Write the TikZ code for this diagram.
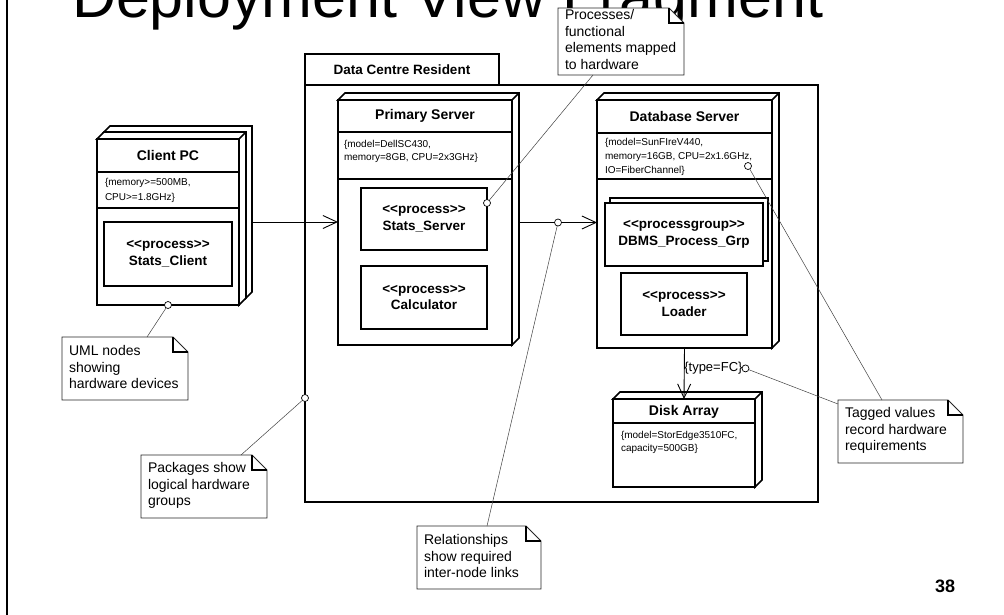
\documentclass[tikz,border=0pt]{standalone}
\usepackage{fontspec}
\setmainfont{Liberation Sans}[Ligatures=TeXOff]
\usetikzlibrary{arrows.meta,calc}
\begin{document}
\begin{tikzpicture}[x=1pt,y=-1pt,
  every node/.style={inner sep=0pt, outer sep=0pt},
  hwbox/.style={draw, fill=white, line width=1.6pt, anchor=north west},
  hwline/.style={line width=1.6pt, line join=miter},
  procbox/.style={draw, fill=white, line width=1.3pt, anchor=north west, align=center, font=\fontsize{13.5}{16.5}\selectfont\bfseries},
  hwname/.style={font=\fontsize{14}{16}\selectfont\bfseries},
  tagtext/.style={anchor=north west, align=left, font=\fontsize{10}{13.5}\selectfont},
  notebox/.style={anchor=north west},
  noteline/.style={line width=0.8pt, draw=black!85, line join=miter},
  notetext/.style={anchor=north west, align=left, font=\fontsize{14}{16.7}\selectfont},
  circ/.style={circle, draw, fill=white, minimum size=7pt, line width=0.7pt},
  link/.style={line width=0.5pt, draw=black!75},
  rel/.style={line width=0.9pt, -{Straight Barb[length=14pt,width=13pt,line width=0.9pt]}},
]
\useasboundingbox (0,0) rectangle (1004,614);
\clip (0,0) rectangle (1004,614);

% title and page frame
\node[anchor=base west, font=\fontsize{61}{61}\selectfont] (title) at (72,17) {Deployment View Fragment};
\draw[line width=1.5pt] (7,-2) -- (7,616);
\node[font=\fontsize{18}{18}\selectfont\bfseries] (page) at (945,586) {38};

% package
\node[draw, line width=1.5pt, minimum width=194pt, minimum height=31pt, anchor=north west,
      font=\fontsize{13.5}{16}\selectfont\bfseries] (pkgtab) at (305,54) {Data Centre Resident};
\node[draw, line width=1.5pt, minimum width=513pt, minimum height=417pt, anchor=north west] (pkg) at (305,85) {};

% Client PC (with stacked copy behind)
\draw[hwline, fill=white] (103,133) -- (110,126) -- (252,126) -- (252,292) -- (245,299) -- (103,299) -- cycle;
\node[hwbox, minimum width=142pt, minimum height=166pt] (client) at (97,139) {};
\draw[hwline, fill=white] (client.north west) -- ++(7,-7) -- ($(client.north east)+(7,-7)$) -- ($(client.south east)+(7,-7)$) -- (client.south east) -- (client.north east) -- cycle;
\draw[hwline] (client.north east) -- ++(7,-7);
\draw[hwline] ($(client.north west)+(0,33)$) -- ($(client.north east)+(0,33)$);
\draw[hwline] ($(client.north west)+(0,69)$) -- ($(client.north east)+(0,69)$);
\node[hwname] (clientname) at ($(client.north)+(0,16)$) {Client PC};
\node[tagtext, font=\fontsize{10}{15}\selectfont] (clienttag) at ($(client.north west)+(8,39.3)$) {\{memory>=500MB,\\CPU>=1.8GHz\}};
\node[procbox, minimum width=128pt, minimum height=64pt] (sc) at (104,222) {<<process>>\\Stats\_Client};

% Primary Server
\node[hwbox, minimum width=174pt, minimum height=245pt] (ps) at (338,100) {};
\draw[hwline, fill=white] (ps.north west) -- ++(7,-7) -- ($(ps.north east)+(7,-7)$) -- ($(ps.south east)+(7,-7)$) -- (ps.south east) -- (ps.north east) -- cycle;
\draw[hwline] (ps.north east) -- ++(7,-7);
\draw[hwline] ($(ps.north west)+(0,32)$) -- ($(ps.north east)+(0,32)$);
\draw[hwline] ($(ps.north west)+(0,79)$) -- ($(ps.north east)+(0,79)$);
\node[hwname] (psname) at ($(ps.north)+(0,16)$) {Primary Server};
\node[tagtext, font=\fontsize{10}{13.3}\selectfont] (pstag) at ($(ps.north west)+(6,40.3)$) {\{model=DellSC430,\\memory=8GB, CPU=2x3GHz\}};
\node[procbox, minimum width=126pt, minimum height=62pt] (ss) at (361,188) {<<process>>\\Stats\_Server};
\node[procbox, minimum width=126pt, minimum height=63pt] (calc) at (361,266) {<<process>>\\Calculator};

% Database Server
\node[hwbox, minimum width=175pt, minimum height=248pt] (db) at (597,100) {};
\draw[hwline, fill=white] (db.north west) -- ++(7,-7) -- ($(db.north east)+(7,-7)$) -- ($(db.south east)+(7,-7)$) -- (db.south east) -- (db.north east) -- cycle;
\draw[hwline] (db.north east) -- ++(7,-7);
\draw[hwline] ($(db.north west)+(0,33)$) -- ($(db.north east)+(0,33)$);
\draw[hwline] ($(db.north west)+(0,79)$) -- ($(db.north east)+(0,79)$);
\node[hwname] (dbname) at ($(db.north)+(0,16)$) {Database Server};
\node[tagtext, font=\fontsize{10}{14}\selectfont] (dbtag) at ($(db.north west)+(8,38.3)$) {\{model=SunFIreV440,\\memory=16GB, CPU=2x1.6GHz,\\IO=FiberChannel\}};
\draw[line width=1.3pt, fill=white] (610,198) rectangle (768,261);
\node[procbox, minimum width=158pt, minimum height=63pt] (dbms) at (605,203) {<<processgroup>>\\DBMS\_Process\_Grp};
\node[procbox, minimum width=126pt, minimum height=62pt] (loader) at (621,273) {<<process>>\\Loader};

% Disk Array
\node[hwbox, minimum width=142pt, minimum height=88pt] (disk) at (613,399) {};
\draw[hwline, fill=white] (disk.north west) -- ++(7,-7) -- ($(disk.north east)+(7,-7)$) -- ($(disk.south east)+(7,-7)$) -- (disk.south east) -- (disk.north east) -- cycle;
\draw[hwline] (disk.north east) -- ++(7,-7);
\draw[hwline] ($(disk.north west)+(0,24)$) -- ($(disk.north east)+(0,24)$);
\node[hwname] (diskname) at ($(disk.north)+(0,13)$) {Disk Array};
\node[tagtext, font=\fontsize{10}{13}\selectfont] (disktag) at ($(disk.north west)+(8,32.7)$) {\{model=StorEdge3510FC,\\capacity=500GB\}};

% relationships
\draw[rel] ($(client.east)+(13,0)$) -- (client.east -| ps.west);
\draw[rel] ($(ps.east)+(7,0)$) -- (ps.east -| db.west);
\draw[rel] (db.south) -- (disk.north);
\node[anchor=west, font=\fontsize{13}{15}\selectfont] (fc) at ($(db.south)!0.4!(disk.north)$) {\{type=FC\}};

% anchor circles
\coordinate (relpt) at ($(ps.east)+(46,0)$);
\node[circ] (cstat) at ($(ss.north east)+(0,15)$) {};
\node[circ] (cclient) at (client.south) {};
\node[circ] (cpkg) at ($(pkg.north west)+(0,313)$) {};
\node[circ] (crel) at (relpt) {};
\node[circ] (cdbtag) at ($(db.north west)+(151,66)$) {};
\node[circ] (cfc) at ($(fc.east)+(3,0)$) {};

% notes
\node[notebox, minimum width=126pt, minimum height=67pt] (n1) at (558,8) {};
\node[notebox, minimum width=126pt, minimum height=63pt] (n2) at (62,337) {};
\node[notebox, minimum width=126pt, minimum height=63pt] (n3) at (141,455) {};
\node[notebox, minimum width=124pt, minimum height=63pt] (n4) at (417,526) {};
\node[notebox, minimum width=125pt, minimum height=63pt] (n5) at (838,400) {};
\foreach \n in {n1,n2,n3,n4,n5}{
  \draw[noteline, fill=white] (\n.north west) -- ($(\n.north east)+(-15,0)$) -- ($(\n.north east)+(0,15)$) -- (\n.south east) -- (\n.south west) -- cycle;
  \draw[noteline, line width=1.2pt, draw=black] ($(\n.north east)+(-15,0)$) -- ++(0,15) -- ($(\n.north east)+(0,15)$);
}
\node[notetext] (t1) at ($(n1.north west)+(7,1.4)$) {Processes/\\functional\\elements mapped\\to hardware};
\node[notetext] (t2) at ($(n2.north west)+(7,8.4)$) {UML nodes\\showing\\hardware devices};
\node[notetext] (t3) at ($(n3.north west)+(7,7.4)$) {Packages show\\logical hardware\\groups};
\node[notetext] (t4) at ($(n4.north west)+(7,8.4)$) {Relationships\\show required\\inter-node links};
\node[notetext] (t5) at ($(n5.north west)+(7,7.4)$) {Tagged values\\record hardware\\requirements};

% note links
\coordinate (l1) at ($(n1.south west)+(35,0)$);
\coordinate (l2) at ($(n2.north west)+(85,0)$);
\coordinate (l3) at ($(n3.north west)+(100,0)$);
\coordinate (l4) at ($(n4.north west)+(70,0)$);
\coordinate (l5) at ($(n5.north west)+(0,4)$);
\coordinate (l6) at ($(n5.north west)+(44,0)$);
\draw[link] (l1) -- (cstat);
\draw[link] (l2) -- (cclient);
\draw[link] (l3) -- (cpkg);
\draw[link] (l4) -- (crel);
\draw[link] (l5) -- (cfc);
\draw[link] (l6) -- (cdbtag);
\end{tikzpicture}
\end{document}
